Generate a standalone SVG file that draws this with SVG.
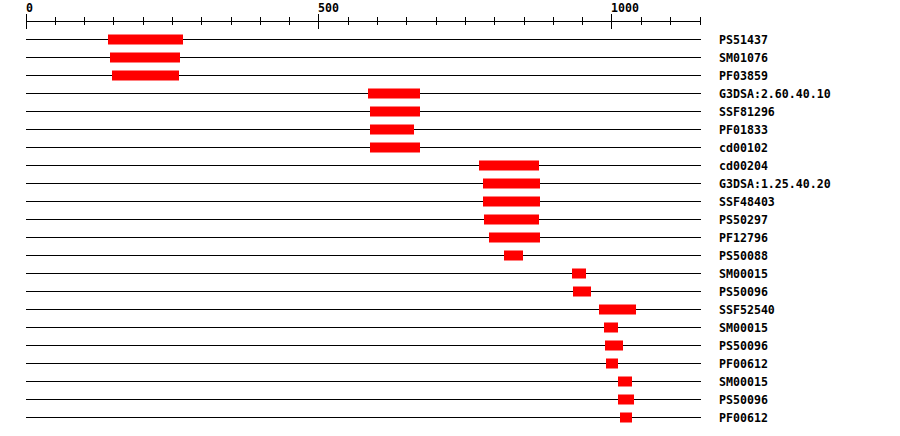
<svg xmlns="http://www.w3.org/2000/svg" width="900" height="436" viewBox="0 0 900 436">
<style>
.t{font-family:"DejaVu Sans Mono","Liberation Mono",monospace;font-weight:bold;font-size:11.6px;fill:#000}
.ln{stroke:#000;stroke-width:1;fill:none}
.b{fill:#ff0000}
</style>
<rect width="900" height="436" fill="#fff"/>
<g id="axis">
<line class="ln" x1="26" y1="21.5" x2="701" y2="21.5"/>
<path class="ln" d="M26.5 14V29M318.5 14V29M611.5 14V29M55.5 17V25M84.5 17V25M113.5 17V25M143.5 17V25M172.5 17V25M201.5 17V25M231.5 17V25M260.5 17V25M289.5 17V25M348.5 17V25M377.5 17V25M406.5 17V25M436.5 17V25M465.5 17V25M494.5 17V25M524.5 17V25M553.5 17V25M582.5 17V25M641.5 17V25M670.5 17V25M700.5 17V25"/>
<text class="t" x="26" y="12">0</text>
<text class="t" x="318" y="12">500</text>
<text class="t" x="611" y="12">1000</text>
</g>
<g id="row1"><line class="ln" x1="26" y1="39.5" x2="701" y2="39.5"/><rect class="b" x="108" y="34.5" width="75" height="10"/><text class="t" x="719" y="43.5">PS51437</text></g>
<g id="row2"><line class="ln" x1="26" y1="57.5" x2="701" y2="57.5"/><rect class="b" x="110" y="52.5" width="70" height="10"/><text class="t" x="719" y="61.5">SM01076</text></g>
<g id="row3"><line class="ln" x1="26" y1="75.5" x2="701" y2="75.5"/><rect class="b" x="112" y="70.5" width="67" height="10"/><text class="t" x="719" y="79.5">PF03859</text></g>
<g id="row4"><line class="ln" x1="26" y1="93.5" x2="701" y2="93.5"/><rect class="b" x="368" y="88.5" width="52" height="10"/><text class="t" x="719" y="97.5">G3DSA:2.60.40.10</text></g>
<g id="row5"><line class="ln" x1="26" y1="111.5" x2="701" y2="111.5"/><rect class="b" x="370" y="106.5" width="50" height="10"/><text class="t" x="719" y="115.5">SSF81296</text></g>
<g id="row6"><line class="ln" x1="26" y1="129.5" x2="701" y2="129.5"/><rect class="b" x="370" y="124.5" width="44" height="10"/><text class="t" x="719" y="133.5">PF01833</text></g>
<g id="row7"><line class="ln" x1="26" y1="147.5" x2="701" y2="147.5"/><rect class="b" x="370" y="142.5" width="50" height="10"/><text class="t" x="719" y="151.5">cd00102</text></g>
<g id="row8"><line class="ln" x1="26" y1="165.5" x2="701" y2="165.5"/><rect class="b" x="479" y="160.5" width="60" height="10"/><text class="t" x="719" y="169.5">cd00204</text></g>
<g id="row9"><line class="ln" x1="26" y1="183.5" x2="701" y2="183.5"/><rect class="b" x="483" y="178.5" width="57" height="10"/><text class="t" x="719" y="187.5">G3DSA:1.25.40.20</text></g>
<g id="row10"><line class="ln" x1="26" y1="201.5" x2="701" y2="201.5"/><rect class="b" x="483" y="196.5" width="57" height="10"/><text class="t" x="719" y="205.5">SSF48403</text></g>
<g id="row11"><line class="ln" x1="26" y1="219.5" x2="701" y2="219.5"/><rect class="b" x="484" y="214.5" width="55" height="10"/><text class="t" x="719" y="223.5">PS50297</text></g>
<g id="row12"><line class="ln" x1="26" y1="237.5" x2="701" y2="237.5"/><rect class="b" x="489" y="232.5" width="51" height="10"/><text class="t" x="719" y="241.5">PF12796</text></g>
<g id="row13"><line class="ln" x1="26" y1="255.5" x2="701" y2="255.5"/><rect class="b" x="504" y="250.5" width="19" height="10"/><text class="t" x="719" y="259.5">PS50088</text></g>
<g id="row14"><line class="ln" x1="26" y1="273.5" x2="701" y2="273.5"/><rect class="b" x="572" y="268.5" width="14" height="10"/><text class="t" x="719" y="277.5">SM00015</text></g>
<g id="row15"><line class="ln" x1="26" y1="291.5" x2="701" y2="291.5"/><rect class="b" x="573" y="286.5" width="18" height="10"/><text class="t" x="719" y="295.5">PS50096</text></g>
<g id="row16"><line class="ln" x1="26" y1="309.5" x2="701" y2="309.5"/><rect class="b" x="599" y="304.5" width="37" height="10"/><text class="t" x="719" y="313.5">SSF52540</text></g>
<g id="row17"><line class="ln" x1="26" y1="327.5" x2="701" y2="327.5"/><rect class="b" x="604" y="322.5" width="14" height="10"/><text class="t" x="719" y="331.5">SM00015</text></g>
<g id="row18"><line class="ln" x1="26" y1="345.5" x2="701" y2="345.5"/><rect class="b" x="605" y="340.5" width="18" height="10"/><text class="t" x="719" y="349.5">PS50096</text></g>
<g id="row19"><line class="ln" x1="26" y1="363.5" x2="701" y2="363.5"/><rect class="b" x="606" y="358.5" width="12" height="10"/><text class="t" x="719" y="367.5">PF00612</text></g>
<g id="row20"><line class="ln" x1="26" y1="381.5" x2="701" y2="381.5"/><rect class="b" x="618" y="376.5" width="14" height="10"/><text class="t" x="719" y="385.5">SM00015</text></g>
<g id="row21"><line class="ln" x1="26" y1="399.5" x2="701" y2="399.5"/><rect class="b" x="618" y="394.5" width="16" height="10"/><text class="t" x="719" y="403.5">PS50096</text></g>
<g id="row22"><line class="ln" x1="26" y1="417.5" x2="701" y2="417.5"/><rect class="b" x="620" y="412.5" width="12" height="10"/><text class="t" x="719" y="421.5">PF00612</text></g>
</svg>
